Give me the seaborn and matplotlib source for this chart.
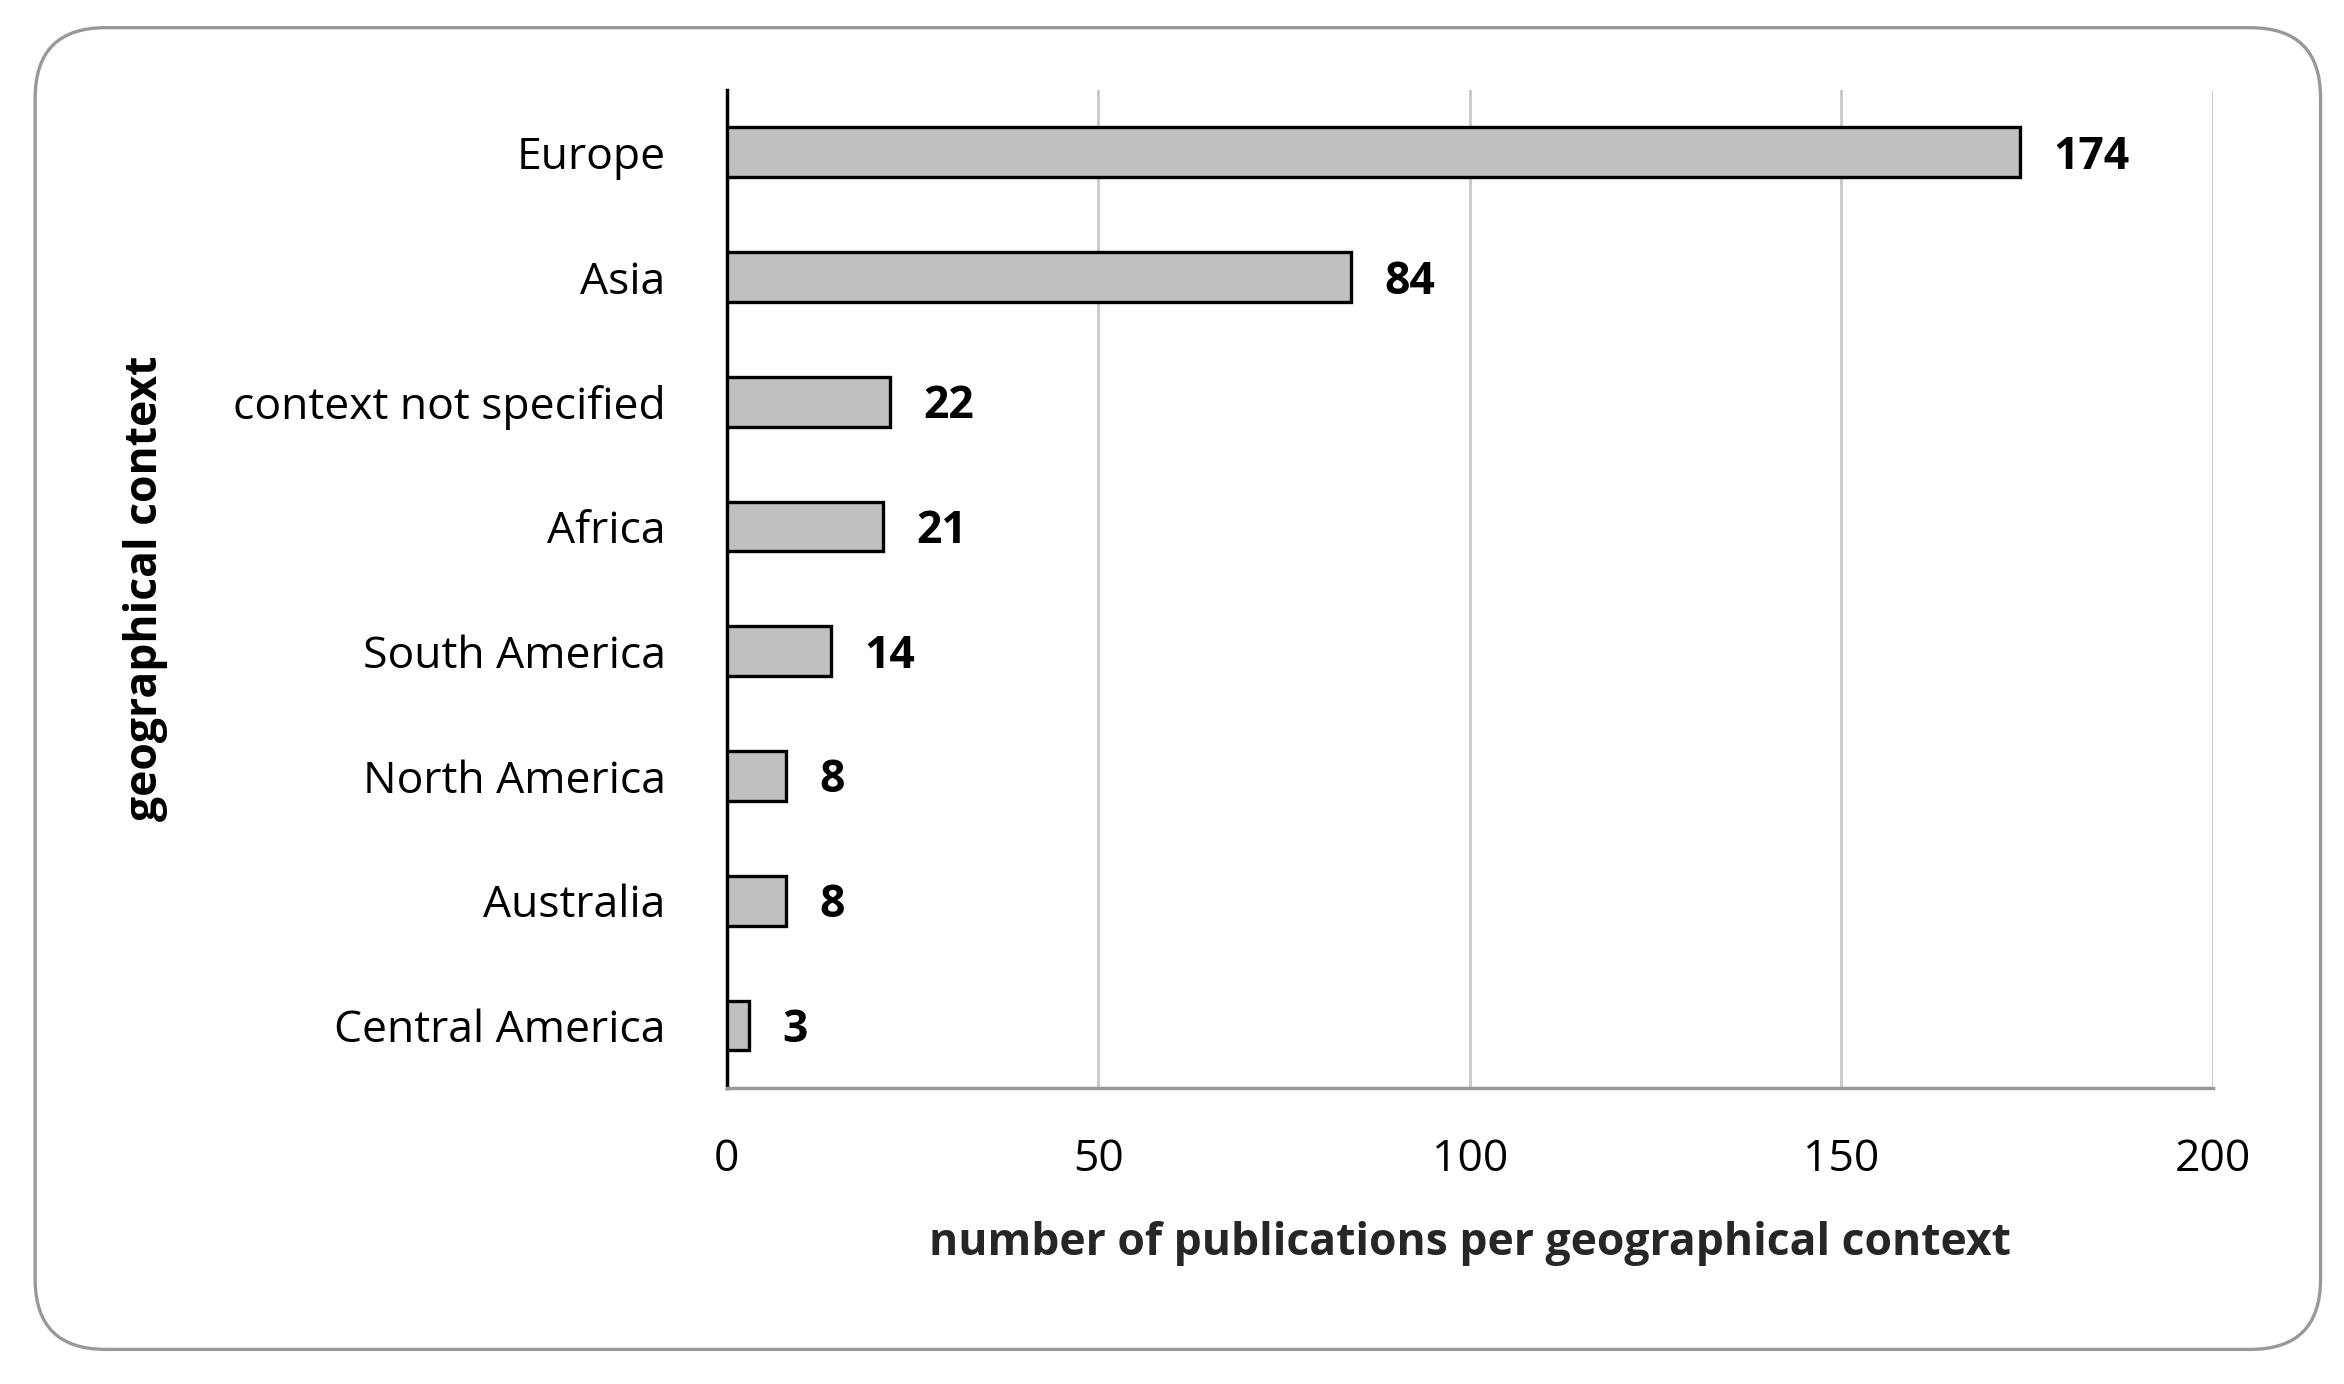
import matplotlib
matplotlib.use("Agg")
import matplotlib.pyplot as plt
import seaborn as sns
import pandas as pd
from matplotlib.patches import FancyBboxPatch

categories = ["Europe", "Asia", "context not specified", "Africa", "South America",
              "North America", "Australia", "Central America"]
values = [174, 84, 22, 21, 14, 8, 8, 3]
xticks = [0, 50, 100, 150, 200]

sns.set_theme(style="white")
plt.rcParams['font.family'] = ['Open Sans', 'DejaVu Sans']
plt.rcParams['text.color'] = 'black'
plt.rcParams['xtick.color'] = 'black'
plt.rcParams['ytick.color'] = 'black'

df = pd.DataFrame({"cat": categories, "val": values})
fig = plt.figure(figsize=(11.72, 6.92), dpi=200)
ax = fig.add_axes([0.310, 0.214, 0.634, 0.721])

fig.patches.append(FancyBboxPatch((0.015, 0.025), 0.975, 0.955, boxstyle="round,pad=0,rounding_size=0.03",
                                  transform=fig.transFigure, facecolor="white", edgecolor="#999999",
                                  linewidth=1.2, zorder=-1, mutation_aspect=11.72/6.92))

sns.barplot(data=df, x="val", y="cat", color="#c0c0c0", edgecolor="black", linewidth=1.2,
            width=0.4, saturation=1, ax=ax, zorder=3)
for i, v in enumerate(values):
    ax.text(v + 4.5, i + 0.04, str(v), va="center", ha="left", fontsize=16, fontweight="bold")

ax.set_xlim(0, 200)
ax.set_xticks(xticks)
ax.grid(axis="x", color="#c8c8c8", linewidth=1)
ax.set_axisbelow(True)
ax.tick_params(axis="x", labelsize=16, pad=18, length=0)
ax.tick_params(axis="y", labelsize=16, pad=22, length=0)
for s in ["top", "right"]:
    ax.spines[s].set_visible(False)
ax.spines["left"].set_color("black")
ax.spines["bottom"].set_color("#999999")
ax.set_xlabel("number of publications per geographical context", fontsize=16, fontweight="bold", labelpad=14)
ax.set_ylabel("")
fig.text(0.062, 0.575, "geographical context", rotation=90, ha="center", va="center",
         fontsize=16, fontweight="bold")
fig.savefig("out.png", dpi=200)
